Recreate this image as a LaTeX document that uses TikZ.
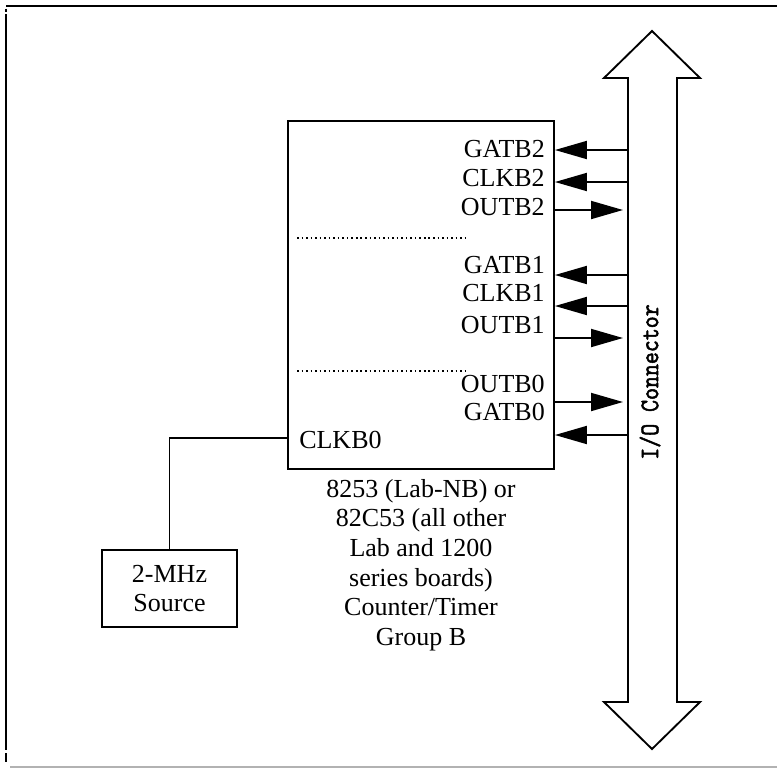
\documentclass[tikz,border=0pt]{standalone}
\usepackage{fontspec}
\setmainfont{Liberation Serif}
\newfontfamily\iofont[FakeBold=2.2]{Latin Modern Mono}
\usetikzlibrary{arrows.meta}
\begin{document}
\begin{tikzpicture}[x=0.75pt,y=-0.75pt,
  lbl/.style={font=\fontsize{19.5}{22.2}\selectfont, inner sep=0pt},
  wire/.style={line width=1.4pt},
  sigarrow/.style={line width=1.4pt, -{Triangle[length=24pt,width=13.5pt]}},
  boxstyle/.style={draw, line width=1.4pt, inner sep=0pt},
  sepline/.style={line width=1.3pt, dash pattern=on 1.2pt off 2.2pt}]
\useasboundingbox (0,0) rectangle (777,768);
% frame
\draw[line width=1.6pt] (6,6) -- (777,6);
\draw[line width=1.6pt] (6,8.5) -- (6,12);
\draw[line width=1.6pt] (6,14) -- (6,750);
\draw[line width=1.6pt] (6,753) -- (6,762);
\draw[gray!60, line width=0.8pt] (10,767) -- (777,767);
% counter box
\node[boxstyle, minimum width=199.5pt, minimum height=261pt] (ctr) at (421,295) {};
% bus double arrow
\draw[line width=1.4pt, line join=miter] (652,31) -- (700,78) -- (677,78) -- (677,702) -- (700,702)
  -- (652,749) -- (604,702) -- (628,702) -- (628,78) -- (604,78) -- cycle;
\node[rotate=90, inner sep=0pt] (io) at (650,382) {\scalebox{1}[1.15]{\iofont\fontsize{17.4}{20}\selectfont I/O Connector}};
% bus tap coordinates
\coordinate (tg2) at (627,150);
\coordinate (tc2) at (627,182);
\coordinate (to2) at (623,210);
\coordinate (tg1) at (627,275);
\coordinate (tc1) at (627,306);
\coordinate (to1) at (623,338);
\coordinate (to0) at (623,402);
\coordinate (tg0) at (627,435);
% signal arrows
\draw[sigarrow] (tg2) -- (ctr.east |- tg2);
\draw[sigarrow] (tc2) -- (ctr.east |- tc2);
\draw[sigarrow] (ctr.east |- to2) -- (to2);
\draw[sigarrow] (tg1) -- (ctr.east |- tg1);
\draw[sigarrow] (tc1) -- (ctr.east |- tc1);
\draw[sigarrow] (ctr.east |- to1) -- (to1);
\draw[sigarrow] (ctr.east |- to0) -- (to0);
\draw[sigarrow] (tg0) -- (ctr.east |- tg0);
% labels
\node[lbl, anchor=base east] (lg2) at (545,157) {GATB2};
\node[lbl, anchor=base east] (lc2) at (545,186) {CLKB2};
\node[lbl, anchor=base east] (lo2) at (545,215) {OUTB2};
\node[lbl, anchor=base east] (lg1) at (545,273) {GATB1};
\node[lbl, anchor=base east] (lc1) at (545,301) {CLKB1};
\node[lbl, anchor=base east] (lo1) at (545,333) {OUTB1};
\node[lbl, anchor=base east] (lo0) at (545,392) {OUTB0};
\node[lbl, anchor=base east] (lg0) at (545,420) {GATB0};
\node[lbl, anchor=base west] (lck) at (299,448) {CLKB0};
% separators
\coordinate (s1a) at (297,238); \coordinate (s1b) at (465,238);
\coordinate (s2a) at (297,371); \coordinate (s2b) at (465,371);
\draw[sepline] (s1a) -- (s1b);
\draw[sepline] (s2a) -- (s2b);
% source
\node[boxstyle, minimum width=101.25pt, minimum height=57.75pt, align=center, font=\fontsize{19.5}{22}\selectfont] (src) at (169.5,588.5) {2-MHz\\Source};
\draw[wire] (ctr.west |- 0,438) -| (src.north);
% caption
\node[lbl, align=center, anchor=north] (cap) at (421,479) {8253 (Lab-NB) or\\82C53 (all other\\Lab and 1200\\series boards)\\Counter/Timer\\Group B};
\end{tikzpicture}
\end{document}
